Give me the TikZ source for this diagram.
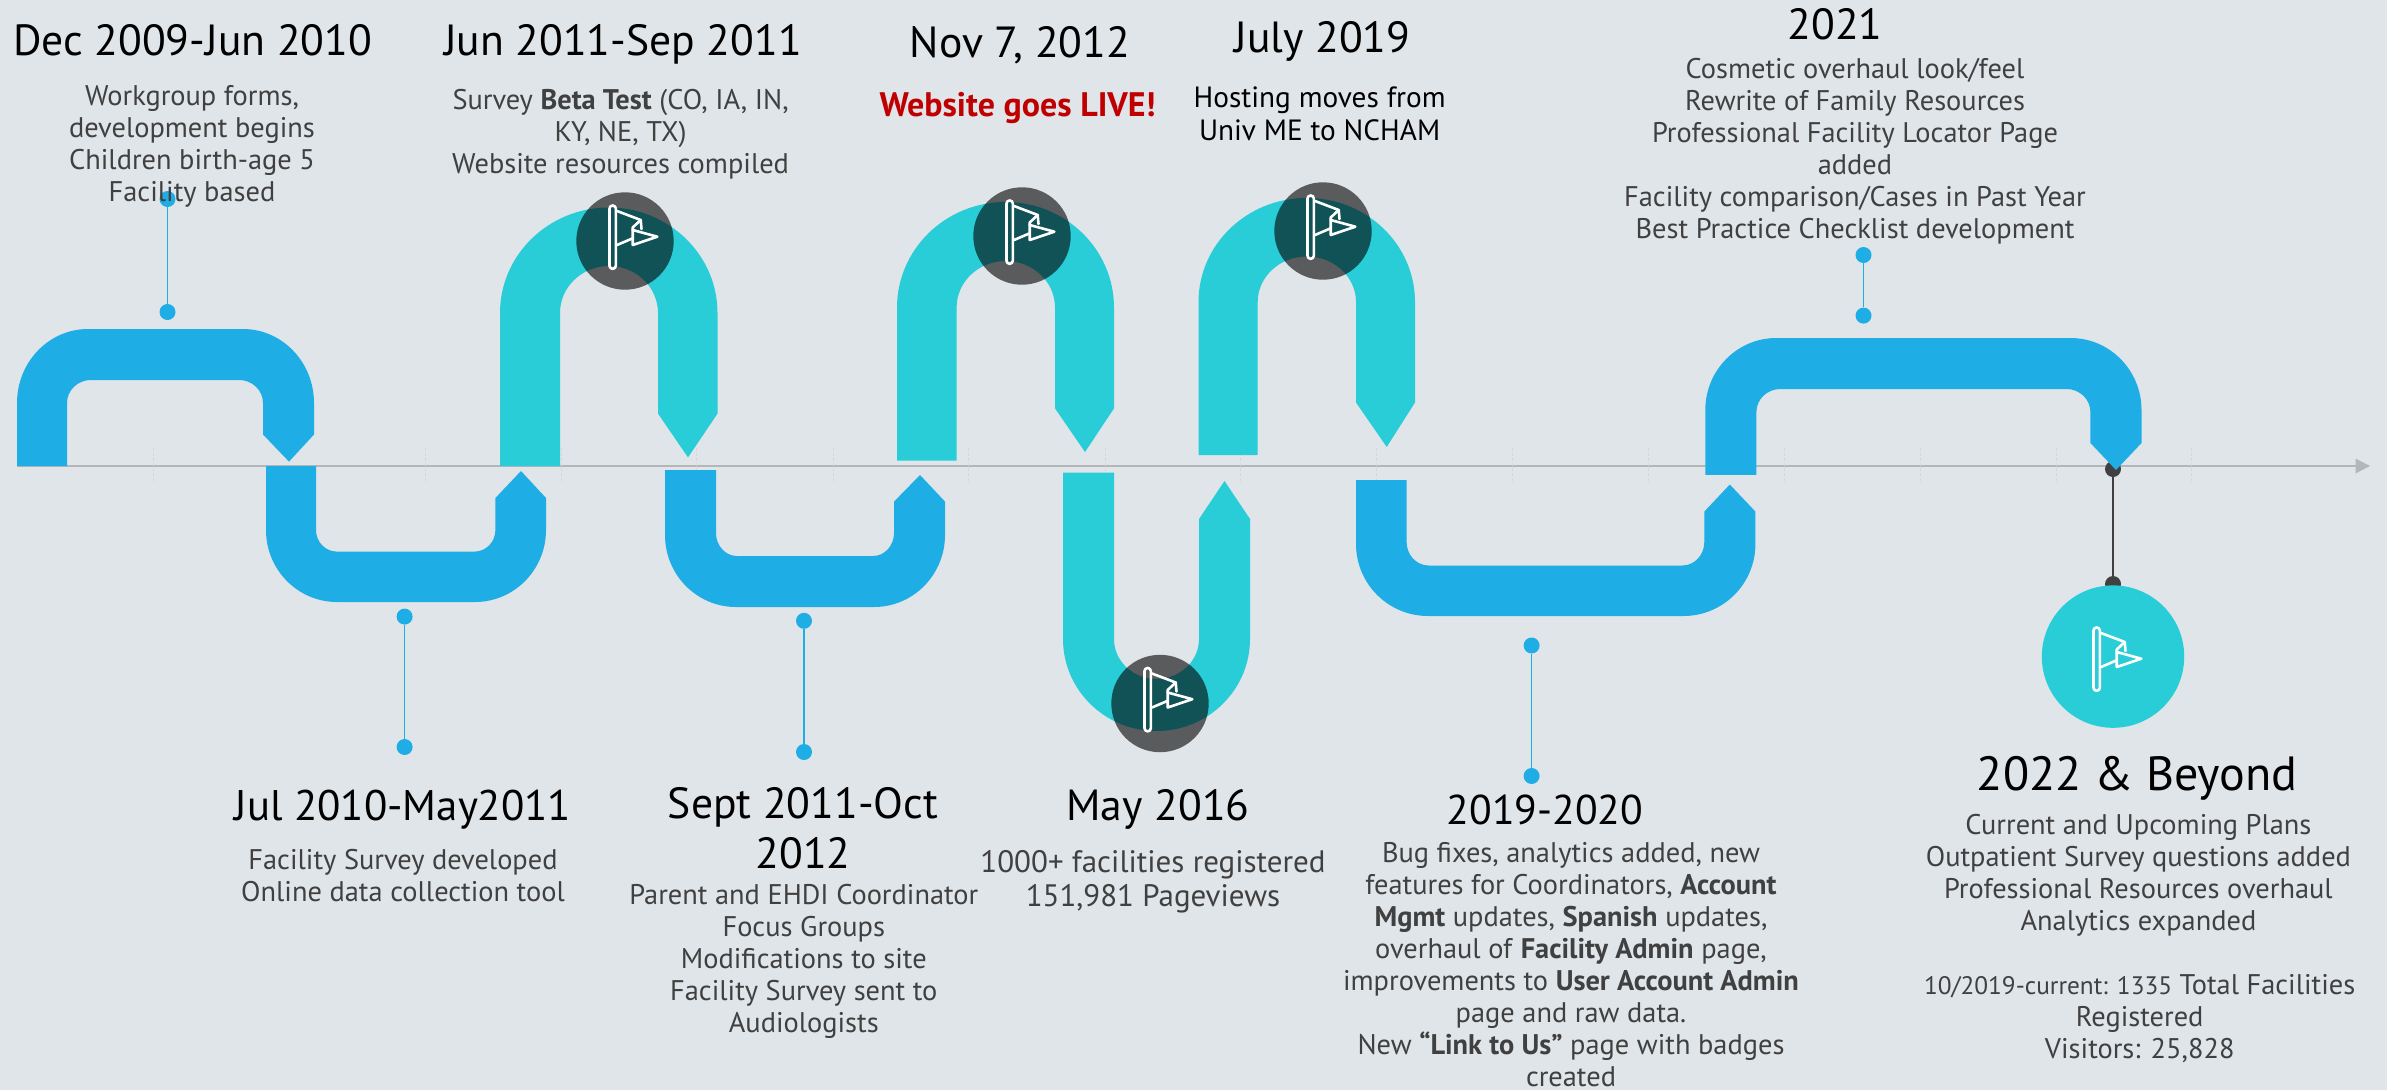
\documentclass[tikz,border=0pt]{standalone}
\usepackage{fontspec}
\setmainfont{PT Sans}
\definecolor{bgc}{HTML}{E0E5E9}
\definecolor{bluec}{HTML}{1EADE4}
\definecolor{tealc}{HTML}{28CDD8}
\definecolor{bodyc}{HTML}{404040}
\definecolor{redc}{HTML}{C00000}
\tikzset{
  ttl/.style={anchor=base,inner sep=0,align=center,text=black,font=\fontsize{43.6}{50}\selectfont},
  bigttl/.style={anchor=base,inner sep=0,align=center,text=black,font=\fontsize{48}{54}\selectfont},
  body/.style={anchor=base,inner sep=0,align=center,text=bodyc,font=\fontsize{28.4}{32}\selectfont},
  dotb/.style={circle,fill=bluec,draw=none,minimum size=16pt,inner sep=0},
  dotd/.style={circle,fill=bodyc,draw=none,minimum size=16pt,inner sep=0},
  linkb/.style={draw=bluec,line width=1.6pt},
  linkd/.style={draw=bodyc,line width=1.6pt},
  tick/.style={draw=black!6!bgc,line width=1pt,densely dashed},
  flagline/.style={draw=white,line width=2.6pt,line join=round,line cap=round},
}
\newcommand{\flagicon}[2]{%
  \begin{scope}[shift={(#1,#2)}]
    \draw[flagline,rounded corners=3pt] (-15.5,-35.5) rectangle (-9.2,27.8);
    \draw[flagline] (-8,-30) -- (15.7,-21) -- (16.5,-12);
    \draw[flagline] (15.7,-21) -- (7.7,-13.5) -- (7.7,-11);
    \draw[flagline] (7.7,-11) -- (32.3,-4.3) -- (7.7,4) -- cycle;
    \draw[flagline] (7.7,-2.7) -- (-8,4);
  \end{scope}}
\begin{document}
\begin{tikzpicture}[x=1pt,y=-1pt]
\useasboundingbox (0,0) rectangle (2387,1090);
\fill[bgc] (0,0) rectangle (2387,1090);
% axis
\coordinate (axL) at (17,466);
\coordinate (axR) at (2370,466);
\draw[draw=black!20!bgc,line width=2.5pt] (axL) -- (2357,466);
\fill[black!20!bgc] (2355.5,458.5) -- (axR) -- (2355.5,473.5) -- cycle;
\foreach \t in {153,425,561,696,833,968,1105,1240,1376.5,1512,1648.7,1784,1920,2056.5,2191.7}
  \draw[tick] (\t,448) -- (\t,483);
% dark marker behind the last ribbon
\node[dotd] (m1) at (2113,469) {};
\node[dotd] (m2) at (2113,584) {};
\draw[linkd] (m1) -- (m2);
% ribbons
\def\kk{0.5523}
\foreach \c/\xL/\xLi/\xRi/\xR/\yB/\yS/\xT/\yT/\yt/\yi/\yc/\yci/\rx/\rxi in {
 bluec/17/67/263/314/466/434.5/289/461.6/329/380/403/403/71/24,
 bluec/266/316/495.4/546/466/498/521/471/602/551.6/530/530/71/21,
 tealc/500/560/658/717.5/466/413.6/688/457.4/207.5/266/313/313/109/49,
 bluec/665/716/894/945/470/501.6/920/475/607/556/535/533/71/21,
 tealc/897/956.6/1055/1114/460.5/408.4/1085/452/202/261/307.6/307.6/108.5/49,
 tealc/1063/1114/1199/1250/472.7/519/1224.5/481/731/679/639/639/93.5/42.5,
 tealc/1198.5/1257.7/1356/1415/455/402.5/1386.7/447/198/256.5/302/302/108/49,
 bluec/1356/1406.6/1704.3/1755.4/480/511.6/1729.8/484.5/616/565.5/544/542/72/22,
 bluec/1705.3/1756.4/2090.4/2141.5/474.8/443/2116/470/338/389/410/412/71/24}{
  \fill[\c] (\xL,\yB) -- (\xL,\yc)
    .. controls (\xL,{\yc+\kk*(\yt-\yc)}) and ({\xL+\rx-\kk*\rx},\yt) .. ({\xL+\rx},\yt)
    -- ({\xR-\rx},\yt)
    .. controls ({\xR-\rx+\kk*\rx},\yt) and (\xR,{\yc+\kk*(\yt-\yc)}) .. (\xR,\yc)
    -- (\xR,\yS) -- (\xT,\yT) -- (\xRi,\yS) -- (\xRi,\yci)
    .. controls (\xRi,{\yci+\kk*(\yi-\yci)}) and ({\xRi-\rxi+\kk*\rxi},\yi) .. ({\xRi-\rxi},\yi)
    -- ({\xLi+\rxi},\yi)
    .. controls ({\xLi+\rxi-\kk*\rxi},\yi) and (\xLi,{\yci+\kk*(\yi-\yci)}) .. (\xLi,\yci)
    -- (\xLi,\yB) -- cycle;
}
% dark translucent discs
\foreach \x/\y in {625/241,1022/236,1323/231,1160/703.5}{
  \fill[black,opacity=0.6] (\x,\y) circle[radius=48.7pt];
  \flagicon{\x}{\y}
}
\fill[tealc] (2113,656.6) circle[radius=71.2pt];
\flagicon{2109}{663}
% connectors
\node[dotb] (a1) at (167.5,199) {};  \node[dotb] (a2) at (167.5,312) {};  \draw[linkb] (a1) -- (a2);
\node[dotb] (b1) at (404.6,616.6) {};\node[dotb] (b2) at (404.6,747) {};  \draw[linkb] (b1) -- (b2);
\node[dotb] (c1) at (804,620.8) {};  \node[dotb] (c2) at (804,752) {};    \draw[linkb] (c1) -- (c2);
\node[dotb] (d1) at (1531.6,645.5) {};\node[dotb] (d2) at (1531.6,776) {};\draw[linkb] (d1) -- (d2);
\node[dotb] (e1) at (1863.5,255) {};   \node[dotb] (e2) at (1863.5,315.6) {}; \draw[linkb] (e1) -- (e2);
% titles
\node[ttl] (t1) at (192.6,55) {Dec 2009-Jun 2010};
\node[ttl] (t2) at (623,55) {Jun 2011-Sep 2011};
\node[ttl] (t3) at (1020,57) {Nov 7, 2012};
\node[ttl] (t4) at (1322.4,52) {July 2019};
\node[ttl] (t5) at (1835,39) {2021};
\node[ttl,font=\fontsize{42.8}{50}\selectfont] (t6) at (403,820.6) {Jul 2010-May2011};
\node[ttl] (t7) at (803,868) {Sept 2011-Oct\\2012};
\node[ttl] (t8) at (1158,820.6) {May 2016};
\node[ttl,font=\fontsize{41.6}{50}\selectfont] (t9) at (1545,824) {2019-2020};
\node[bigttl] (t10) at (2137,790) {2022 \& Beyond};
% bodies
\node[body] (x1) at (192,201.6) {Workgroup forms,\\development begins\\Children birth-age 5\\Facility based};
\node[body] (x2) at (620.6,173) {Survey \textbf{Beta Test} (CO, IA, IN,\\KY, NE, TX)\\Website resources compiled};
\node[body,text=redc,font=\fontsize{34}{36}\selectfont\bfseries] (x3) at (1017.6,116.5) {Website goes LIVE!};
\node[body,text=black,font=\fontsize{29.3}{33}\selectfont] (x4) at (1319.6,140.8) {Hosting moves from\\Univ ME to NCHAM};
\node[body] (x5) at (1855,238) {Cosmetic overhaul look/feel\\Rewrite of Family Resources\\Professional Facility Locator Page\\added\\Facility comparison/Cases in Past Year\\Best Practice Checklist development};
\node[body] (x6) at (403,901) {Facility Survey developed\\Online data collection tool};
\node[body] (x7) at (803.8,1032.7) {Parent and EHDI Coordinator\\Focus Groups\\Modifications to site\\Facility Survey sent to\\Audiologists};
\node[body,font=\fontsize{31}{34.5}\selectfont] (x8) at (1153,906.5) {1000+ facilities registered\\151,981 Pageviews};
\node[body] (x9) at (1571,1086) {Bug fixes, analytics added, new\\features for Coordinators, \textbf{Account}\\\textbf{Mgmt} updates, \textbf{Spanish} updates,\\overhaul of \textbf{Facility Admin} page,\\improvements to \textbf{User Account Admin}\\page and raw data.\\New \textbf{“Link to Us”} page with badges\\created};
\node[body] (x10) at (2138.4,930) {Current and Upcoming Plans\\Outpatient Survey questions added\\Professional Resources overhaul\\Analytics expanded};
\node[body] (x11) at (2139.7,1058) {{\fontsize{25.3}{32}\selectfont 10/2019-current: 1335} Total Facilities\\Registered\\Visitors: 25,828};
\end{tikzpicture}
\end{document}
